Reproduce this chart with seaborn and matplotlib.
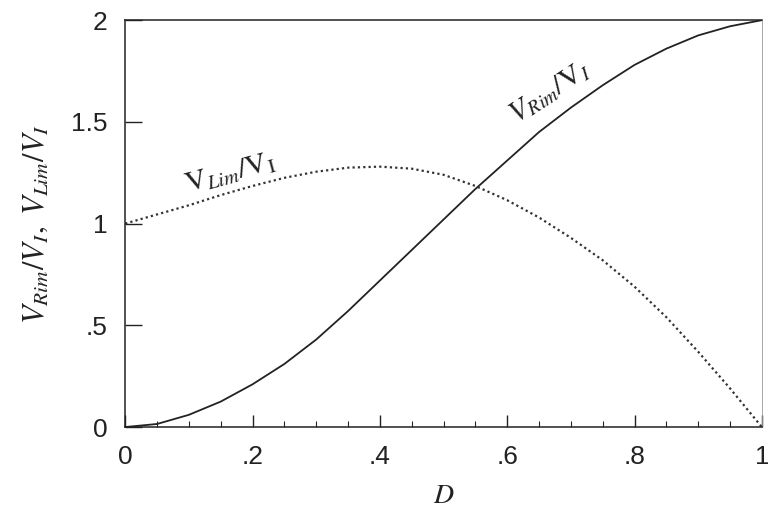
import numpy as np
import pandas as pd
import matplotlib
matplotlib.use("Agg")
import matplotlib.pyplot as plt
from matplotlib.ticker import MultipleLocator
import seaborn as sns

# values
d_values = [0.0, 0.05, 0.10, 0.15, 0.20, 0.25, 0.30, 0.35, 0.40, 0.45, 0.50,
            0.55, 0.60, 0.65, 0.70, 0.75, 0.80, 0.85, 0.90, 0.95, 1.0]
v_rim = [0.0, 0.015, 0.06, 0.125, 0.21, 0.31, 0.43, 0.57, 0.72, 0.87, 1.02,
         1.17, 1.31, 1.45, 1.57, 1.68, 1.78, 1.86, 1.925, 1.97, 2.0]
v_lim = [1.0, 1.045, 1.09, 1.14, 1.185, 1.225, 1.255, 1.275, 1.28, 1.27, 1.24,
         1.185, 1.115, 1.03, 0.93, 0.82, 0.69, 0.54, 0.37, 0.19, 0.0]

x_ticks = [0, 0.2, 0.4, 0.6, 0.8, 1.0]
x_tick_labels = ["0", ".2", ".4", ".6", ".8", "1"]
y_ticks = [0, 0.5, 1.0, 1.5, 2.0]
y_tick_labels = ["0", ".5", "1", "1.5", "2"]

df = pd.DataFrame({"D": d_values, "rim": v_rim, "lim": v_lim})

sns.set_style("ticks")
plt.rcParams["mathtext.fontset"] = "stix"
plt.rcParams["font.family"] = ["Liberation Sans", "DejaVu Sans"]

fig = plt.figure(figsize=(7.68, 5.17), dpi=100)
ax = fig.add_axes([0.163, 0.174, 0.829, 0.787])

sns.lineplot(data=df, x="D", y="rim", ax=ax, color="#222222", lw=1.3)
sns.lineplot(data=df, x="D", y="lim", ax=ax, color="#333333", lw=1.6,
             linestyle=(0, (1, 1.4)))

ax.set_xlim(0, 1)
ax.set_ylim(0, 2)
ax.set_xticks(x_ticks)
ax.set_xticklabels(x_tick_labels)
ax.set_yticks(y_ticks)
ax.set_yticklabels(y_tick_labels)
ax.xaxis.set_minor_locator(MultipleLocator(0.05))
ax.tick_params(axis="both", which="major", direction="in", labelsize=19,
               pad=13, width=1, color="#222222", labelcolor="#222222")
ax.tick_params(axis="x", which="major", length=9)
ax.tick_params(axis="y", which="major", length=12)
ax.tick_params(axis="x", which="minor", direction="in", length=4, width=0.8)

for side in ["top", "right", "left", "bottom"]:
    ax.spines[side].set_visible(True)
    ax.spines[side].set_linewidth(1.1)
    ax.spines[side].set_color("#222222")
ax.spines["right"].set_linewidth(0.6)
ax.spines["right"].set_color("#999999")

ax.set_xlabel("$D$", fontsize=20, labelpad=10, color="#222222")
ax.set_ylabel(r"$V_{Rim}/V_I,\ V_{Lim}/V_I$", fontsize=22, labelpad=14,
              color="#222222")

ax.text(0.165, 1.25, r"$\mathrm{V}_{Lim}/\mathrm{V}_\mathrm{I}$", fontsize=21,
        rotation=15, ha="center", va="center", color="#222222")
ax.text(0.667, 1.65, r"$V_{Rim}/\mathrm{V}_I$", fontsize=21,
        rotation=33, ha="center", va="center", color="#222222")

fig.savefig("out.png", dpi=100)
